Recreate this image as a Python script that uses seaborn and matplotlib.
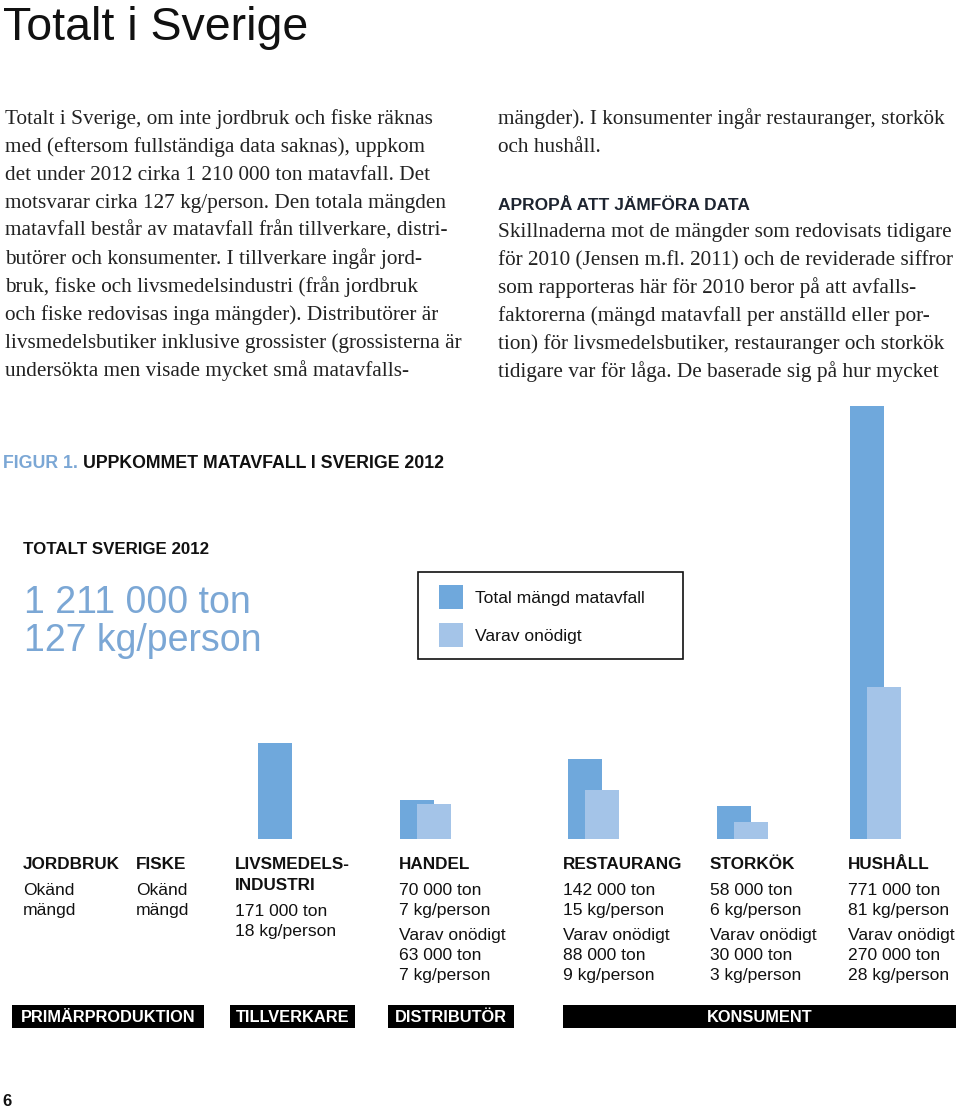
"""Figur 1: uppkommet matavfall i Sverige 2012 (sida 6)."""
import numpy as np
import pandas as pd
import seaborn as sns
import matplotlib.pyplot as plt
from matplotlib.patches import Rectangle

# ===== #
# DATA  #
# ===== #
# total amount of food waste per sector, 1000 ton
sectors = ["Livsmedelsindustri", "Handel", "Restaurang", "Storkök", "Hushåll"]
total_kton = [171, 70, 142, 58, 771]
# of which unnecessary
waste_sectors = ["Handel", "Restaurang", "Storkök", "Hushåll"]
waste_kton = [63, 88, 30, 270]

legend_labels = ["Total mängd matavfall", "Varav onödigt"]
group_labels = ["PRIMÄRPRODUKTION", "TILLVERKARE", "DISTRIBUTÖR", "KONSUMENT"]

col_headers = [["JORDBRUK"], ["FISKE"], ["LIVSMEDELS-", "INDUSTRI"], ["HANDEL"],
               ["RESTAURANG"], ["STORKÖK"], ["HUSHÅLL"]]
col_texts = [
    ["Okänd", "mängd"],
    ["Okänd", "mängd"],
    ["171 000 ton", "18 kg/person"],
    ["70 000 ton", "7 kg/person", "Varav onödigt", "63 000 ton", "7 kg/person"],
    ["142 000 ton", "15 kg/person", "Varav onödigt", "88 000 ton", "9 kg/person"],
    ["58 000 ton", "6 kg/person", "Varav onödigt", "30 000 ton", "3 kg/person"],
    ["771 000 ton", "81 kg/person", "Varav onödigt", "270 000 ton", "28 kg/person"],
]

left_lines = [
    "Totalt i Sverige, om inte jordbruk och fiske räknas",
    "med (eftersom fullständiga data saknas), uppkom",
    "det under 2012 cirka 1 210 000 ton matavfall. Det",
    "motsvarar cirka 127 kg/person. Den totala mängden",
    "matavfall består av matavfall från tillverkare, distri-",
    "butörer och konsumenter. I tillverkare ingår jord-",
    "bruk, fiske och livsmedelsindustri (från jordbruk",
    "och fiske redovisas inga mängder). Distributörer är",
    "livsmedelsbutiker inklusive grossister (grossisterna är",
    "undersökta men visade mycket små matavfalls-",
]
right_top = [
    "mängder). I konsumenter ingår restauranger, storkök",
    "och hushåll.",
]
right_head = "APROPÅ ATT JÄMFÖRA DATA"
right_lines = [
    "Skillnaderna mot de mängder som redovisats tidigare",
    "för 2010 (Jensen m.fl. 2011) och de reviderade siffror",
    "som rapporteras här för 2010 beror på att avfalls-",
    "faktorerna (mängd matavfall per anställd eller por-",
    "tion) för livsmedelsbutiker, restauranger och storkök",
    "tidigare var för låga. De baserade sig på hur mycket",
]

# ====== #
# LAYOUT #
# ====== #
W, H = 960, 1111
TOTAL_C = "#6fa8dc"
WASTE_C = "#a4c4e8"
BIG_C = "#7ba7d5"
SANS = ["Liberation Sans", "DejaVu Sans"]
SERIF = ["Liberation Serif", "DejaVu Serif"]
BODY_PT = 15.3

bar_w = 34
total_pos = [275, 417, 585, 734, 867]       # bar centres, px
waste_shift = 17
col_x = [23, 136, 235, 399, 563, 710, 848]
group_boxes = [(12, 204), (230, 355), (388, 514), (563, 956)]

sns.set_theme(style="white")
plt.rcParams["font.family"] = SANS

fig = plt.figure(figsize=(W / 100, H / 100), dpi=100)

# page in pixel coordinates for all the text
page = fig.add_axes([0, 0, 1, 1])
page.set_xlim(0, W)
page.set_ylim(H, 0)
page.axis("off")

# bar axes: baseline at y=839 px, 0.5615 px per 1000 ton
base_y, top_y = 839, 390
bars = fig.add_axes([0, (H - base_y) / H, 1, (base_y - top_y) / H])
bars.patch.set_alpha(0)

df_total = pd.DataFrame({"sektor": sectors, "kton": total_kton, "pos": total_pos})
df_waste = pd.DataFrame({"sektor": waste_sectors, "kton": waste_kton})
df_waste["pos"] = [p + waste_shift for s, p in zip(sectors, total_pos) if s in waste_sectors]

for df, col in [(df_total, TOTAL_C), (df_waste, WASTE_C)]:
    width = bar_w / np.diff(np.sort(df["pos"].values)).min()
    sns.barplot(data=df, x="pos", y="kton", native_scale=True, width=width,
                color=col, saturation=1, errorbar=None, linewidth=0, ax=bars)
bars.set_xlim(0, W)
bars.set_ylim(0, (base_y - top_y) / 0.5615)
bars.axis("off")

# ===== #
# TEXTS #
# ===== #
page.text(3, 40, "Totalt i Sverige", fontsize=33.5, va="baseline", color="#111")

for i, line in enumerate(left_lines):
    page.text(5, 124 + 28 * i, line, family=SERIF, fontsize=BODY_PT, va="baseline", color="#222")
for i, line in enumerate(right_top):
    page.text(498, 124 + 28 * i, line, family=SERIF, fontsize=BODY_PT, va="baseline", color="#222")
page.text(498, 209.5, right_head, fontsize=12.5, fontweight="bold", va="baseline", color="#1d2430")
for i, line in enumerate(right_lines):
    page.text(498, 237 + 28 * i, line, family=SERIF, fontsize=BODY_PT, va="baseline", color="#222")

# figure title
t = page.text(3, 467.5, "FIGUR 1. ", fontsize=12.8, fontweight="bold", va="baseline", color=BIG_C)
fig.canvas.draw()
bb = t.get_window_extent().transformed(page.transData.inverted())
page.text(bb.x1, 467.5, "UPPKOMMET MATAVFALL I SVERIGE 2012", fontsize=12.8,
          fontweight="bold", va="baseline", color="#111")

page.text(23, 554.5, "TOTALT SVERIGE 2012", fontsize=12.2, fontweight="bold", va="baseline", color="#111")
page.text(24, 613, "1 211 000 ton", fontsize=27, va="baseline", color=BIG_C)
page.text(24, 651, "127 kg/person", fontsize=27, va="baseline", color=BIG_C)

# legend box
page.add_patch(Rectangle((418, 572), 265, 87, fill=False, edgecolor="#111", linewidth=1.2))
for i, (lab, col) in enumerate(zip(legend_labels, [TOTAL_C, WASTE_C])):
    y0 = 585 + 38 * i
    page.add_patch(Rectangle((439, y0), 24, 24, color=col, linewidth=0))
    page.text(475, y0 + 13.5, lab, fontsize=12.6, va="center", color="#111")

# column labels
for x, head, body in zip(col_x, col_headers, col_texts):
    for j, h in enumerate(head):
        page.text(x, 869 + 21 * j, h, fontsize=12.3, fontweight="bold", va="baseline", color="#111")
    y = 895 + 21 * (len(head) - 1)
    for k, line in enumerate(body):
        yy = y + 20 * k + (5 if k >= 2 else 0)
        page.text(x, yy, line, fontsize=12.6, va="baseline", color="#111")

# group bars
for (x0, x1), lab in zip(group_boxes, group_labels):
    page.add_patch(Rectangle((x0, 1005), x1 - x0, 23, color="black", linewidth=0))
    page.text((x0 + x1) / 2, 1017, lab, fontsize=11.8, fontweight="bold",
              ha="center", va="center", color="white")

page.text(2, 1106, "6", fontsize=12, fontweight="bold", va="baseline", color="#111")

plt.savefig("out.png", dpi=100)
